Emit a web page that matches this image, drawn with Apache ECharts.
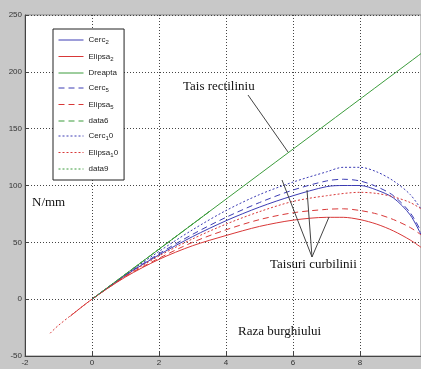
<!DOCTYPE html>
<html>
<head>
<meta charset="utf-8">
<script src="https://cdn.jsdelivr.net/npm/echarts@6/dist/echarts.min.js"></script>
<style>
  html, body { margin: 0; padding: 0; background: #c8c8c8; }
  #chart { width: 421px; height: 369px; }
</style>
</head>
<body>
<div id="chart"></div>
<script>
// valori
var xMain = [0, 1, 2, 3, 4, 5, 6, 7, 7.5, 8, 8.5, 9, 9.5, 9.85];
var cerc2 = [0, 21, 39, 55, 69, 81, 91, 99, 100, 100, 96, 89, 74, 55];
var cerc5 = [0, 21, 40, 57, 72, 85, 96, 104, 105.5, 104, 99, 91, 76, 58];
var cerc10 = [0, 21.5, 42, 61, 78, 92, 103, 112, 116, 116, 112, 104, 92, 78];

var xElipsa2 = [-0.65, 0, 1, 2, 3, 4, 5, 6, 7, 7.5, 8, 8.5, 9, 9.5, 9.85];
var elipsa2 = [-15, 0, 19.5, 35, 47, 56, 64, 69.5, 72, 72, 70, 66, 60, 52, 45];
var elipsa5 = [0, 20, 36, 50, 61, 70, 76, 79, 79.5, 78, 75, 70, 63, 56];
var xElipsa10 = [-1.25, -1, 0, 1, 2, 3, 4, 5, 6, 7, 8, 8.5, 9, 9.5, 9.85];
var elipsa10 = [-30, -23, 0, 20.5, 38, 53, 66, 77, 86, 91, 94, 93, 90, 85, 79];

var xDreapta = [0, 10];
var dreapta = [0, 220];
var xData6 = [0, 3.5];
var data6 = [0, 77];
var xData9 = [0, 3.5];
var data9 = [0, 77];

var xTicks = { min: -2, max: 9.82, step: 2 };
var yTicks = { min: -50, max: 250, step: 50 };

function pairs(xs, ys) {
  var out = [];
  for (let i = 0; i < xs.length; i++) {
    out.push([xs[i], ys[i]]);
  }
  return out;
}

var BLUE = '#3c3cb4';
var RED = '#d83838';
var GREEN = '#3c9c3c';

function mkSeries(name, data, color, dash) {
  return {
    name: name,
    type: 'line',
    data: data,
    smooth: 0.3,
    showSymbol: false,
    symbol: 'none',
    lineStyle: { color: color, width: 1, type: dash },
    itemStyle: { color: color },
    z: 3
  };
}

var legendText = {
  'Cerc2': '{b|Cerc}{s|2}',
  'Elipsa2': '{b|Elipsa}{s|2}',
  'Dreapta': '{b|Dreapta}',
  'Cerc5': '{b|Cerc}{s|5}',
  'Elipsa5': '{b|Elipsa}{s|5}',
  'data6': '{b|data6}',
  'Cerc10': '{b|Cerc}{s|1}{b|0}',
  'Elipsa10': '{b|Elipsa}{s|1}{b|0}',
  'data9': '{b|data9}'
};

var chart = echarts.init(document.getElementById('chart'));

var option = {
  animation: false,
  backgroundColor: '#c8c8c8',
  grid: {
    left: 25, right: 0, top: 15, bottom: 13,
    show: true,
    backgroundColor: '#ffffff',
    borderColor: '#888',
    borderWidth: 1
  },
  legend: {
    orient: 'vertical',
    left: 53,
    top: 29,
    backgroundColor: '#ffffff',
    borderColor: '#222',
    borderWidth: 1,
    borderRadius: 0,
    padding: [7, 6, 7, 5],
    itemWidth: 25,
    itemHeight: 8,
    itemGap: 7,
    itemStyle: { opacity: 0, borderWidth: 0 },
    lineStyle: { width: 1 },
    formatter: function (name) { return legendText[name]; },
    textStyle: {
      fontFamily: 'Liberation Sans',
      fontSize: 8,
      color: '#222',
      rich: {
        b: { fontFamily: 'Liberation Sans', fontSize: 8, color: '#222' },
        s: { fontFamily: 'Liberation Sans', fontSize: 6, color: '#222', padding: [5, 0, 0, 0] }
      }
    },
    data: ['Cerc2', 'Elipsa2', 'Dreapta', 'Cerc5', 'Elipsa5', 'data6', 'Cerc10', 'Elipsa10', 'data9']
  },
  xAxis: {
    type: 'value',
    min: xTicks.min,
    max: xTicks.max,
    interval: xTicks.step,
    axisLine: { show: true, onZero: false, lineStyle: { color: '#444', width: 1 } },
    axisTick: { show: true, inside: true, length: 4, lineStyle: { color: '#444' } },
    axisLabel: {
      showMaxLabel: false,
      margin: 3,
      fontFamily: 'Liberation Sans',
      fontSize: 8,
      color: '#333'
    },
    splitLine: { show: true, lineStyle: { color: '#444', width: 1, type: [1, 2] } }
  },
  yAxis: {
    type: 'value',
    min: yTicks.min,
    max: yTicks.max,
    interval: yTicks.step,
    axisLine: { show: true, onZero: false, lineStyle: { color: '#444', width: 1 } },
    axisTick: { show: true, inside: true, length: 4, lineStyle: { color: '#444' } },
    axisLabel: {
      margin: 3,
      fontFamily: 'Liberation Sans',
      fontSize: 8,
      color: '#333'
    },
    splitLine: { show: true, lineStyle: { color: '#444', width: 1, type: [1, 2] } }
  },
  series: [
    mkSeries('Cerc2', pairs(xMain, cerc2), BLUE, 'solid'),
    mkSeries('Elipsa2', pairs(xElipsa2, elipsa2), RED, 'solid'),
    mkSeries('Dreapta', pairs(xDreapta, dreapta), GREEN, 'solid'),
    mkSeries('Cerc5', pairs(xMain, cerc5), BLUE, [6, 4]),
    mkSeries('Elipsa5', pairs(xMain, elipsa5), RED, [6, 4]),
    mkSeries('data6', pairs(xData6, data6), GREEN, [6, 4]),
    mkSeries('Cerc10', pairs(xMain, cerc10), BLUE, [2, 2]),
    mkSeries('Elipsa10', pairs(xElipsa10, elipsa10), RED, [2, 2]),
    mkSeries('data9', pairs(xData9, data9), GREEN, [2, 2])
  ],
  graphic: [
    { type: 'text', left: 183, top: 80, z: 10,
      style: { text: 'Tais rectiliniu', font: '13px "Liberation Serif"', fill: '#111' } },
    { type: 'line', z: 10, shape: { x1: 248, y1: 95, x2: 288, y2: 152 },
      style: { stroke: '#444', lineWidth: 1 } },
    { type: 'text', left: 270, top: 258, z: 10,
      style: { text: 'Taisuri curbilinii', font: '13px "Liberation Serif"', fill: '#111' } },
    { type: 'line', z: 10, shape: { x1: 312, y1: 257, x2: 282, y2: 180 },
      style: { stroke: '#444', lineWidth: 1 } },
    { type: 'line', z: 10, shape: { x1: 312, y1: 257, x2: 307, y2: 190 },
      style: { stroke: '#444', lineWidth: 1 } },
    { type: 'line', z: 10, shape: { x1: 312, y1: 257, x2: 329, y2: 217 },
      style: { stroke: '#444', lineWidth: 1 } },
    { type: 'text', left: 32, top: 196, z: 10,
      style: { text: 'N/mm', font: '13px "Liberation Serif"', fill: '#111' } },
    { type: 'text', left: 238, top: 325, z: 10,
      style: { text: 'Raza burghiului', font: '13px "Liberation Serif"', fill: '#111' } }
  ]
};

chart.setOption(option);
</script>
</body>
</html>
